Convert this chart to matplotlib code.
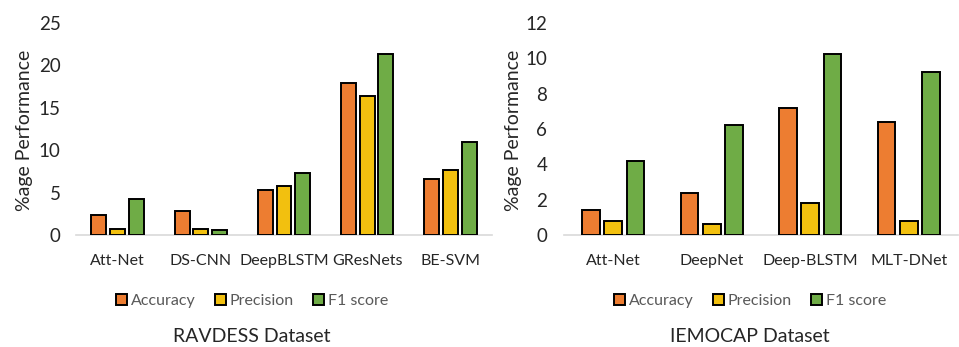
import matplotlib.pyplot as plt
import numpy as np

plt.rcParams['font.family'] = ['Lato', 'DejaVu Sans']

# ── data ─────────────────────────────────────────────────────────────────────
metrics = ["Accuracy", "Precision", "F1 score"]

rav_models = ["Att-Net", "DS-CNN", "DeepBLSTM", "GResNets", "BE-SVM"]
rav_acc = [2.3, 2.8, 5.3, 17.9, 6.6]
rav_prec = [0.7, 0.7, 5.75, 16.45, 7.7]
rav_f1 = [4.3, 0.6, 7.35, 21.3, 11.0]

iem_models = ["Att-Net", "DeepNet", "Deep-BLSTM", "MLT-DNet"]
iem_acc = [1.4, 2.4, 7.2, 6.4]
iem_prec = [0.8, 0.6, 1.8, 0.8]
iem_f1 = [4.2, 6.2, 10.25, 9.25]

colors = ["#ED7D31", "#F2C00F", "#6FAC46"]

# ── canvas ───────────────────────────────────────────────────────────────────
fig = plt.figure(figsize=(9.59, 3.47), dpi=100)
W, H = 959, 347


def px_axes(x0, x1, ytop, ybot):
    return fig.add_axes([x0 / W, 1 - ybot / H, (x1 - x0) / W, (ybot - ytop) / H])


def panel(ax, models, series, ymax, ystep, title, xc, ylab_x, tick_pad):
    x = np.arange(len(models))
    for i, (vals, c) in enumerate(zip(series, colors)):
        ax.bar(x + (i - 1) * 0.225, vals, width=0.18, color=c,
               edgecolor="black", linewidth=1.4, label=metrics[i], zorder=3)
    ax.set_xlim(-0.5, len(models) - 0.5)
    ax.set_ylim(0, ymax)
    ax.set_yticks(np.arange(0, ymax + 0.1, ystep))
    ax.set_xticks(x)
    ax.set_xticklabels(models)
    for s in ("top", "right", "left"):
        ax.spines[s].set_visible(False)
    ax.spines["bottom"].set_color("#d9d9d9")
    ax.spines["bottom"].set_linewidth(1.2)
    ax.tick_params(length=0, colors="#262626")
    ax.tick_params(axis="y", labelsize=13.5, pad=tick_pad)
    ax.tick_params(axis="x", labelsize=11.5, pad=14)
    ax.set_ylabel("%age Performance", fontsize=14, color="#262626")
    ax.yaxis.label.set_va("center")
    ax.yaxis.set_label_coords(ylab_x / W, 1 - 130 / H, transform=fig.transFigure)
    leg = ax.legend(loc="center", bbox_to_anchor=(xc / W, 1 - 301 / H),
                    bbox_transform=fig.transFigure, ncol=3, frameon=False,
                    fontsize=11.5, handlelength=0.7, handleheight=0.7,
                    handletextpad=0.25, columnspacing=1.2)
    for t in leg.get_texts():
        t.set_color("#595959")
    fig.text(xc / W, 1 - 337 / H, title, ha="center", va="center",
             fontsize=14, color="#262626")


ax1 = px_axes(76, 492, 23, 235)
panel(ax1, rav_models, [rav_acc, rav_prec, rav_f1], 25, 5,
      "RAVDESS Dataset", 252, 25, 11)

ax2 = px_axes(564, 958, 23, 235)
panel(ax2, iem_models, [iem_acc, iem_prec, iem_f1], 12, 2,
      "IEMOCAP Dataset", 750, 513, 12)

fig.savefig("out.png", dpi=100)
